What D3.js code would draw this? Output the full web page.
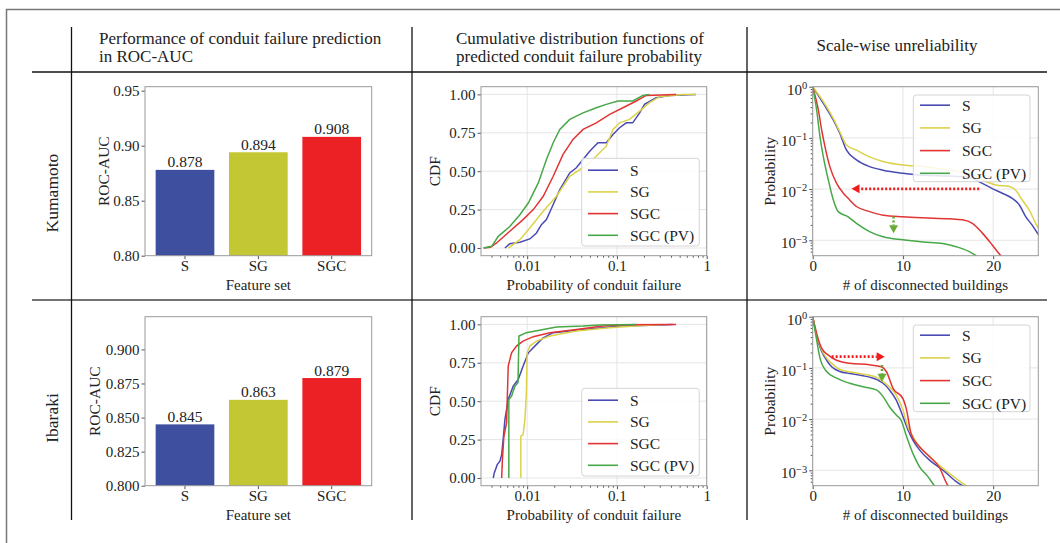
<!DOCTYPE html>
<html>
<head>
<meta charset="utf-8"/>
<title>Conduit failure prediction</title>
<style>
body { margin: 0; background: #fff; }
text { font-family: "Liberation Serif", "Times New Roman", serif; fill: #222; }
</style>
</head>
<body>
<div id="fig"></div>
<script src="https://d3js.org/d3.v7.min.js"></script>
<script>
// ---- data ----
var featureSets = ["S", "SG", "SGC"];
var aucKumamoto = [0.878, 0.894, 0.908];
var aucIbaraki = [0.845, 0.863, 0.879];
var seriesNames = ["S", "SG", "SGC", "SGC (PV)"];
var regions = ["Kumamoto", "Ibaraki"];

// CDF of predicted conduit failure probability: [probability, cdf]
var cdfKumamotoS = [[0.00565,0],[0.0064,0.028],[0.0083,0.037],[0.0107,0.059],[0.0127,0.098],[0.0144,0.152],[0.0164,0.185],[0.0195,0.283],[0.0231,0.38],[0.0298,0.489],[0.0353,0.522],[0.0419,0.576],[0.0497,0.63],[0.0615,0.685],[0.076,0.685],[0.0904,0.739],[0.107,0.783],[0.127,0.815],[0.15,0.815],[0.179,0.88],[0.203,0.935],[0.273,0.978],[0.385,0.993],[0.76,1.0]];
var cdfKumamotoSG = [[0.00615,0],[0.0083,0.054],[0.0107,0.13],[0.0151,0.239],[0.0212,0.337],[0.0298,0.467],[0.0385,0.511],[0.0497,0.554],[0.0641,0.62],[0.076,0.663],[0.0904,0.772],[0.107,0.815],[0.138,0.837],[0.179,0.891],[0.231,0.946],[0.298,0.985],[0.54,1.0],[0.76,1.0]];
var cdfKumamotoSGC = [[0.0033,0],[0.0039,0.005],[0.00456,0.033],[0.0064,0.109],[0.009,0.185],[0.0117,0.25],[0.0151,0.337],[0.0195,0.467],[0.0251,0.609],[0.0324,0.707],[0.0419,0.772],[0.0589,0.815],[0.083,0.87],[0.1167,0.913],[0.164,0.957],[0.212,0.993],[0.456,1.0]];
var cdfKumamotoPV = [[0.00324,0],[0.00402,0.011],[0.00477,0.076],[0.0064,0.14],[0.0083,0.217],[0.0103,0.293],[0.0133,0.424],[0.0164,0.576],[0.0195,0.685],[0.0231,0.772],[0.0298,0.837],[0.0419,0.88],[0.0589,0.913],[0.076,0.935],[0.1026,0.957],[0.15,0.957],[0.195,0.993],[0.23,1.0]];

var cdfIbarakiS = [[0.00419,0],[0.0043,0.033],[0.00464,0.087],[0.00497,0.109],[0.0052,0.152],[0.0054,0.25],[0.00565,0.38],[0.00615,0.511],[0.00699,0.598],[0.00794,0.641],[0.009,0.728],[0.0103,0.815],[0.0127,0.87],[0.0151,0.913],[0.0195,0.946],[0.0298,0.957],[0.0419,0.967],[0.0699,0.978],[0.107,0.989],[0.195,0.993],[0.419,1.0]];
var cdfIbarakiSG = [[0.0085,0],[0.0085,0.272],[0.009,0.283],[0.0094,0.37],[0.0098,0.554],[0.01,0.815],[0.0107,0.859],[0.0127,0.891],[0.0179,0.924],[0.0353,0.957],[0.083,0.978],[0.195,0.993],[0.324,1.0]];
var cdfIbarakiSGC = [[0.0052,0],[0.0053,0.12],[0.0055,0.27],[0.0059,0.36],[0.00615,0.728],[0.0067,0.815],[0.0076,0.859],[0.009,0.891],[0.0117,0.92],[0.0179,0.946],[0.0353,0.967],[0.0699,0.989],[0.127,0.998],[0.456,1.0]];
var cdfIbarakiPV = [[0.00625,0],[0.00625,0.511],[0.0067,0.533],[0.0073,0.598],[0.0079,0.62],[0.0081,0.924],[0.0098,0.946],[0.0151,0.967],[0.0212,0.983],[0.0419,0.989],[0.064,0.996],[0.164,1.0]];

// scale-wise unreliability: [# of disconnected buildings, probability]
var tailKumamotoS = [[0,1],[1.18,0.472],[2.28,0.224],[3.0,0.123],[3.75,0.0575],[4.85,0.0372],[6.3,0.0275],[7.8,0.0234],[10,0.0204],[12.2,0.0186],[15.1,0.018],[17.35,0.017],[18.8,0.0129],[19.9,0.0102],[21,0.0083],[22.1,0.0066],[22.9,0.0049],[23.6,0.0029],[24.3,0.002],[24.9,0.00138],[25.3,0.0011]];
var tailKumamotoSG = [[0,1],[1.18,0.513],[2.28,0.24],[3,0.132],[3.75,0.0724],[4.85,0.0575],[6.3,0.0427],[7.8,0.0347],[10,0.0295],[12.2,0.0275],[15.1,0.0234],[17.35,0.0204],[18.8,0.0151],[20.3,0.012],[21.8,0.0112],[22.5,0.0095],[23.2,0.0062],[24,0.0039],[24.9,0.00186],[25.3,0.0015]];
var tailKumamotoSGC = [[0,1],[0.63,0.347],[1,0.141],[1.36,0.0676],[1.9,0.0275],[2.65,0.0129],[3.4,0.0083],[3.93,0.0066],[4.85,0.00457],[6.3,0.00363],[7.8,0.00309],[10,0.00288],[12.2,0.00275],[15.1,0.00263],[16.6,0.00251],[17.7,0.00214],[18.8,0.00138],[19.9,0.00081],[20.8,0.00051],[21.1,0.00045]];
var tailKumamotoPV = [[0,1],[0.44,0.347],[0.81,0.105],[1.18,0.0427],[1.73,0.0151],[2.28,0.0062],[2.83,0.00363],[3.93,0.00288],[4.85,0.00214],[6.3,0.00148],[7.8,0.00117],[10,0.00102],[12.2,0.00093],[14.4,0.00087],[15.9,0.00075],[17.35,0.0006],[18.1,0.0005],[18.4,0.00045]];

var tailIbarakiS = [[0,1],[0.44,0.407],[1,0.209],[1.54,0.141],[2.1,0.105],[3,0.0851],[4.1,0.0776],[5.2,0.0724],[6.3,0.0661],[7.25,0.0575],[7.8,0.0501],[8.5,0.0372],[9.26,0.0234],[10,0.0112],[10.55,0.0062],[11.1,0.0039],[11.84,0.0025],[12.94,0.00158],[14.4,0.00102],[15.9,0.0006],[16.6,0.0005],[17,0.00046]];
var tailIbarakiSG = [[0,1],[0.44,0.437],[1,0.224],[1.54,0.155],[2.1,0.123],[3,0.0933],[5.2,0.0776],[7.25,0.0631],[7.8,0.0537],[8.5,0.0427],[9.26,0.0295],[10,0.0151],[10.55,0.0071],[11.1,0.00457],[11.84,0.00288],[12.94,0.00186],[14.4,0.0011],[15.9,0.00069],[17,0.0005],[17.4,0.00046]];
var tailIbarakiSGC = [[0,1],[0.44,0.468],[1,0.24],[1.73,0.178],[2.65,0.141],[4.1,0.123],[6.3,0.115],[7.6,0.105],[8.16,0.0851],[8.9,0.0398],[10,0.0251],[10.4,0.0151],[10.9,0.0052],[11.84,0.00288],[12.94,0.00186],[14,0.00117],[15,0.0005],[15.3,0.00044]];
var tailIbarakiPV = [[0,1],[0.44,0.347],[0.81,0.155],[1.54,0.0851],[2.65,0.0631],[4.1,0.0501],[5.6,0.0427],[7.06,0.0372],[7.8,0.0275],[8.5,0.0174],[9.26,0.012],[9.8,0.0095],[10.4,0.00457],[11.1,0.00214],[11.84,0.00117],[12.75,0.00076],[13.5,0.0005],[13.8,0.00045]];

// dotted arrows drawn on the unreliability panels: [x, probability] start and tip
var arrowsKumamoto = [
  {kind: "SGC", from: [18.45, 0.0101], to: [4.3, 0.0101]},
  {kind: "SGC (PV)", from: [8.96, 0.0029], to: [8.96, 0.00137]}
];
var arrowsIbaraki = [
  {kind: "SGC", from: [2.1, 0.166], to: [7.98, 0.166]},
  {kind: "SGC (PV)", from: [7.68, 0.114], to: [7.68, 0.0537]}
];

// ---- styles ----
var barColors = ["#3f4f9f", "#c4c734", "#ec2125"];
var lineColors = {"S": "#4a4ab4", "SG": "#dcd24a", "SGC": "#e23434", "SGC (PV)": "#46a846"};
var arrowColors = {"SGC": "#ee1c1c", "SGC (PV)": "#68ac38"};

var svg = d3.select("#fig").append("svg")
  .attr("width", 1060)
  .attr("height", 543);

// outer frame and table rules
svg.append("path").attr("d", "M6.5,543 L6.5,9.5 L1060,9.5")
  .attr("fill", "none").attr("stroke", "#777").attr("stroke-width", 1.5);
svg.append("line").attr("x1", 32).attr("x2", 1047).attr("y1", 72).attr("y2", 72)
  .attr("stroke", "#111").attr("stroke-width", 1.3);
svg.append("line").attr("x1", 32).attr("x2", 1047).attr("y1", 300).attr("y2", 300)
  .attr("stroke", "#444").attr("stroke-width", 1.3);
[71.5, 412, 747].forEach(function(x) {
  svg.append("line").attr("x1", x).attr("x2", x).attr("y1", 27).attr("y2", 520)
    .attr("stroke", "#111").attr("stroke-width", 1.3);
});

// header
function txt(x, y, s, size, anchor) {
  return svg.append("text").attr("x", x).attr("y", y).attr("font-size", size)
    .attr("text-anchor", anchor || "start").text(s);
}
txt(99, 44, "Performance of conduit failure prediction", 17);
txt(99, 62, "in ROC-AUC", 17);
txt(456, 44, "Cumulative distribution functions of", 17);
txt(456, 62, "predicted conduit failure probability", 17);
txt(897, 51, "Scale-wise unreliability", 17, "middle");

// row labels
var rowCenters = [193, 418];
regions.forEach(function(r, i) {
  svg.append("text")
    .attr("transform", "translate(52," + rowCenters[i] + ") rotate(-90)")
    .attr("text-anchor", "middle").attr("dy", "0.35em")
    .attr("font-size", 17.5).text(r);
});

// panel geometry
var rows = [{top: 86.7, bottom: 255.7}, {top: 316.7, bottom: 485.7}];
var colA = [145, 371.7], colB = [481, 706.7], colC = [812.7, 1038.3];

function styleAxis(g) {
  g.attr("font-family", null).attr("font-size", 15);
  g.select(".domain").remove();
  g.selectAll(".tick line").attr("stroke", "#555");
}

function spine(g, x0, x1, y0, y1) {
  g.append("rect").attr("x", x0).attr("y", y0).attr("width", x1 - x0).attr("height", y1 - y0)
    .attr("fill", "none").attr("stroke", "#999").attr("stroke-width", 1);
}

function yTitle(g, x, row, s) {
  g.append("text")
    .attr("transform", "translate(" + x + "," + (row.top + row.bottom) / 2 + ") rotate(-90)")
    .attr("text-anchor", "middle").attr("dy", "0.35em").attr("font-size", 15.5).text(s);
}
function xTitle(g, col, row, s) {
  g.append("text").attr("x", (col[0] + col[1]) / 2).attr("y", row.bottom + 34.5)
    .attr("text-anchor", "middle").attr("font-size", 15).text(s);
}

var clipId = 0;
function clip(g, x0, x1, y0, y1) {
  var id = "clip" + (clipId++);
  g.append("clipPath").attr("id", id).append("rect")
    .attr("x", x0).attr("y", y0).attr("width", x1 - x0).attr("height", y1 - y0);
  return "url(#" + id + ")";
}

// ---- bar panels ----
function barPanel(row, values, yMax, ticks, fmt, titleX) {
  var g = svg.append("g");
  var x = d3.scaleBand().domain(featureSets).range(colA).paddingInner(0.2).paddingOuter(0.145);
  var y = d3.scaleLinear().domain([0.8, yMax]).range([row.bottom, row.top]);

  g.selectAll("rect.bar").data(values).join("rect").attr("class", "bar")
    .attr("x", function(d, i) { return x(featureSets[i]); })
    .attr("y", function(d) { return y(d); })
    .attr("width", x.bandwidth())
    .attr("height", function(d) { return row.bottom - y(d); })
    .attr("fill", function(d, i) { return barColors[i]; });

  g.selectAll("text.val").data(values).join("text").attr("class", "val")
    .attr("x", function(d, i) { return x(featureSets[i]) + x.bandwidth() / 2; })
    .attr("y", function(d) { return y(d) - 2.5; })
    .attr("text-anchor", "middle").attr("font-size", 15.5)
    .text(d3.format(".3f"));

  var ay = g.append("g").attr("transform", "translate(" + colA[0] + ",0)")
    .call(d3.axisLeft(y).tickValues(ticks).tickFormat(d3.format(fmt)).tickSize(3.5).tickPadding(2));
  styleAxis(ay);
  var ax = g.append("g").attr("transform", "translate(0," + row.bottom + ")")
    .call(d3.axisBottom(x).tickSize(3.5).tickPadding(1));
  styleAxis(ax);

  spine(g, colA[0], colA[1], row.top, row.bottom);
  yTitle(g, titleX, row, "ROC-AUC");
  xTitle(g, colA, row, "Feature set");
}

barPanel(rows[0], aucKumamoto, 0.9536, [0.80, 0.85, 0.90, 0.95], ".2f", 103.5);
barPanel(rows[1], aucIbaraki, 0.924, [0.800, 0.825, 0.850, 0.875, 0.900], ".3f", 94.5);

// ---- legend ----
function legend(g, x0, y0, w, h, lx0, rowY, rowStep) {
  g.append("rect").attr("x", x0).attr("y", y0).attr("width", w).attr("height", h)
    .attr("rx", 3).attr("fill", "#fff").attr("fill-opacity", 0.85)
    .attr("stroke", "#d4d4d4").attr("stroke-width", 1);
  seriesNames.forEach(function(s, i) {
    var yy = rowY + i * rowStep;
    g.append("line").attr("x1", lx0).attr("x2", lx0 + 30).attr("y1", yy).attr("y2", yy)
      .attr("stroke", lineColors[s]).attr("stroke-width", 1.6);
    g.append("text").attr("x", lx0 + 42).attr("y", yy).attr("dy", "0.35em")
      .attr("font-size", 15.5).text(s);
  });
}

// ---- CDF panels ----
function cdfPanel(row, series) {
  var g = svg.append("g");
  var x = d3.scaleLog().domain([0.00306, 1]).range(colB);
  var y = d3.scaleLinear().domain([-0.05, 1.05]).range([row.bottom, row.top]);
  var yt = [0, 0.25, 0.5, 0.75, 1];
  var xt = [0.01, 0.1, 1];

  g.selectAll("line.gy").data(yt).join("line").attr("class", "gy")
    .attr("x1", colB[0]).attr("x2", colB[1]).attr("y1", y).attr("y2", y)
    .attr("stroke", "#e2e2e2").attr("stroke-width", 0.9);
  g.selectAll("line.gx").data(xt).join("line").attr("class", "gx")
    .attr("x1", x).attr("x2", x).attr("y1", row.top).attr("y2", row.bottom)
    .attr("stroke", "#e2e2e2").attr("stroke-width", 0.9);

  var line = d3.line().x(function(d) { return x(d[0]); }).y(function(d) { return y(d[1]); });
  var cp = clip(g, colB[0], colB[1], row.top, row.bottom);
  var lg = g.append("g").attr("clip-path", cp);
  series.forEach(function(data, i) {
    lg.append("path").datum(data).attr("d", line).attr("fill", "none")
      .attr("stroke", lineColors[seriesNames[i]]).attr("stroke-width", 1.5);
  });

  var minors = [];
  [-3, -2, -1].forEach(function(k) {
    for (var m = 2; m <= 9; m++) {
      var v = m * Math.pow(10, k);
      if (v > 0.00306 && v < 1) minors.push(v);
    }
  });
  var am = g.append("g").attr("transform", "translate(0," + row.bottom + ")")
    .call(d3.axisBottom(x).tickValues(minors).tickFormat("").tickSize(2));
  styleAxis(am);
  var ax = g.append("g").attr("transform", "translate(0," + row.bottom + ")")
    .call(d3.axisBottom(x).tickValues(xt).tickFormat(function(d) { return d === 1 ? "1" : String(d); })
      .tickSize(3.5).tickPadding(1));
  styleAxis(ax);
  var ay = g.append("g").attr("transform", "translate(" + colB[0] + ",0)")
    .call(d3.axisLeft(y).tickValues(yt).tickFormat(d3.format(".2f")).tickSize(3.5).tickPadding(2));
  styleAxis(ay);

  spine(g, colB[0], colB[1], row.top, row.bottom);
  legend(g, 581.7, row.top + 71.6, 117.6, 87.7, 588, row.top + 83.5, 21.7);
  yTitle(g, 435, row, "CDF");
  xTitle(g, colB, row, "Probability of conduit failure");
}

cdfPanel(rows[0], [cdfKumamotoS, cdfKumamotoSG, cdfKumamotoSGC, cdfKumamotoPV]);
cdfPanel(rows[1], [cdfIbarakiS, cdfIbarakiSG, cdfIbarakiSGC, cdfIbarakiPV]);

// ---- scale-wise unreliability panels ----
function tailPanel(row, series, arrows) {
  var g = svg.append("g");
  var x = d3.scaleLinear().domain([0, 25]).range(colC);
  var y = d3.scaleLog().domain([0.0005, 1]).range([row.bottom, row.top]);
  var yt = [1, 0.1, 0.01, 0.001];
  var xt = [0, 10, 20];

  g.selectAll("line.gy").data(yt).join("line").attr("class", "gy")
    .attr("x1", colC[0]).attr("x2", colC[1]).attr("y1", y).attr("y2", y)
    .attr("stroke", "#e2e2e2").attr("stroke-width", 0.9);
  g.selectAll("line.gx").data(xt).join("line").attr("class", "gx")
    .attr("x1", x).attr("x2", x).attr("y1", row.top).attr("y2", row.bottom)
    .attr("stroke", "#e2e2e2").attr("stroke-width", 0.9);

  var line = d3.line().curve(d3.curveMonotoneX)
    .x(function(d) { return x(d[0]); }).y(function(d) { return y(d[1]); });
  var cp = clip(g, colC[0], colC[1], row.top, row.bottom);
  var lg = g.append("g").attr("clip-path", cp);
  series.forEach(function(data, i) {
    lg.append("path").datum(data).attr("d", line).attr("fill", "none")
      .attr("stroke", lineColors[seriesNames[i]]).attr("stroke-width", 1.5);
  });

  var minors = [];
  [-4, -3, -2, -1].forEach(function(k) {
    for (var m = 2; m <= 9; m++) {
      var v = m * Math.pow(10, k);
      if (v > 0.0005 && v < 1) minors.push(v);
    }
  });
  var am = g.append("g").attr("transform", "translate(" + colC[0] + ",0)")
    .call(d3.axisLeft(y).tickValues(minors).tickFormat("").tickSize(2));
  styleAxis(am);
  var ay = g.append("g").attr("transform", "translate(" + colC[0] + ",0)")
    .call(d3.axisLeft(y).tickValues(yt).tickFormat("").tickSize(3.5).tickPadding(2));
  styleAxis(ay);
  ay.selectAll(".tick text").each(function(d) {
    var e = Math.round(Math.log10(d));
    var t = d3.select(this).text("10").attr("dy", "0.5em");
    t.append("tspan").attr("dy", "-0.55em").attr("font-size", 10.5)
      .text(e === 0 ? "0" : "\u2212" + Math.abs(e));
  });
  var ax = g.append("g").attr("transform", "translate(0," + row.bottom + ")")
    .call(d3.axisBottom(x).tickValues(xt).tickSize(3.5).tickPadding(1));
  styleAxis(ax);

  // dotted arrows
  arrows.forEach(function(a) {
    var x1 = x(a.from[0]), y1 = y(a.from[1]), x2 = x(a.to[0]), y2 = y(a.to[1]);
    var dx = x2 - x1, dy = y2 - y1, len = Math.sqrt(dx * dx + dy * dy);
    var ux = dx / len, uy = dy / len, head = 8, half = 4.5;
    var bx = x2 - ux * head, by = y2 - uy * head;
    var c = arrowColors[a.kind];
    g.append("line").attr("x1", x1).attr("y1", y1).attr("x2", bx).attr("y2", by)
      .attr("stroke", c).attr("stroke-width", 2.6).attr("stroke-dasharray", "2,2");
    g.append("path")
      .attr("d", "M" + x2 + "," + y2 + "L" + (bx - uy * half) + "," + (by + ux * half) +
        "L" + (bx + uy * half) + "," + (by - ux * half) + "Z")
      .attr("fill", c);
  });

  spine(g, colC[0], colC[1], row.top, row.bottom);
  legend(g, 913.3, row.top + 8.3, 116.7, 86.7, 920, row.top + 18.5, 22.7);
  yTitle(g, 770, row, "Probability");
  xTitle(g, colC, row, "# of disconnected buildings");
}

tailPanel(rows[0], [tailKumamotoS, tailKumamotoSG, tailKumamotoSGC, tailKumamotoPV], arrowsKumamoto);
tailPanel(rows[1], [tailIbarakiS, tailIbarakiSG, tailIbarakiSGC, tailIbarakiPV], arrowsIbaraki);
</script>
</body>
</html>
